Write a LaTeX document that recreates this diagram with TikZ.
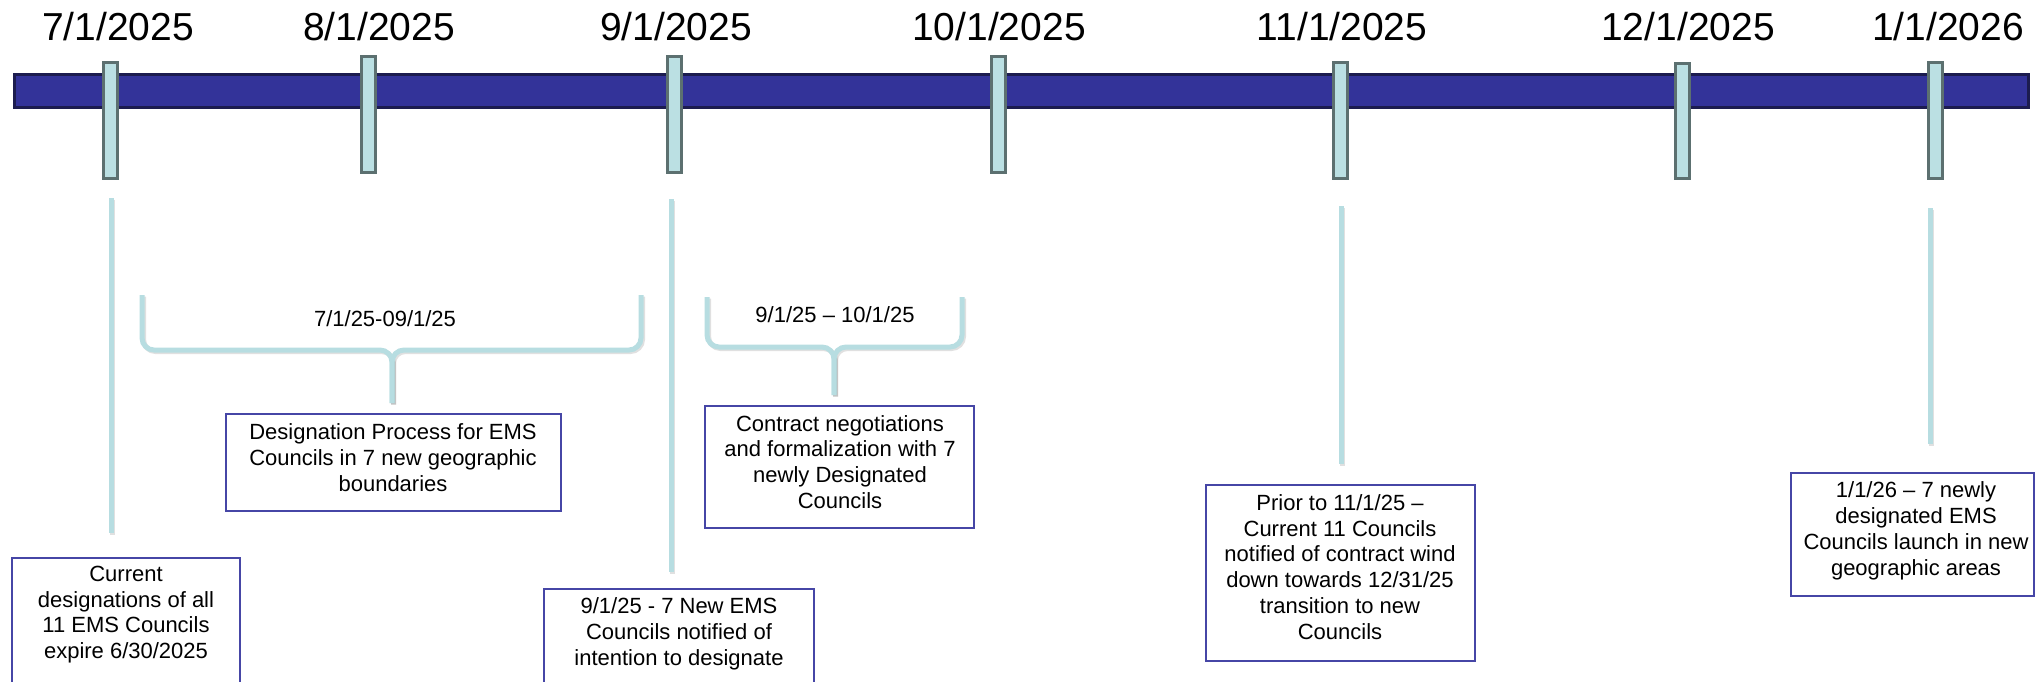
\documentclass[tikz,border=0pt]{standalone}
\usepackage{fontspec}
\setmainfont{Liberation Sans}
\definecolor{barblue}{HTML}{333399}
\definecolor{baredge}{HTML}{1C1C4F}
\definecolor{tickfill}{HTML}{BBE0E3}
\definecolor{tickedge}{HTML}{5C7070}
\definecolor{linecyan}{HTML}{B7DDE1}
\definecolor{boxedge}{HTML}{4646A6}
\begin{document}
\begin{tikzpicture}[x=1pt,y=-1pt,
  timebar/.style={fill=barblue,draw=baredge,line width=3pt,inner sep=0,minimum width=2014pt,minimum height=33pt},
  tickbox/.style={fill=tickfill,draw=tickedge,line width=3pt,inner sep=0,minimum width=14pt},
  datelbl/.style={font=\fontsize{39}{45}\selectfont,anchor=base,inner sep=0},
  evbox/.style={draw=boxedge,line width=2pt,fill=white,inner sep=0},
  evtext/.style={font=\fontsize{22}{25.8}\selectfont,align=center,inner sep=0},
  conn/.style={draw=linecyan,line width=5pt,
    preaction={draw=black,opacity=0.12,line width=5pt,transform canvas={shift={(1.5pt,-1.5pt)}}}},
  bracelbl/.style={font=\fontsize{22}{26}\selectfont,inner sep=0}]
\clip (0,0) rectangle (2037,681);
\fill[white] (0,0) rectangle (2037,681);

% main bar
\node[timebar] (bar) at (1021.5,91) {};

% ticks
\node[tickbox,minimum height=116pt] (k1) at (110,120.5) {};
\node[tickbox,minimum height=116pt] (k2) at (368,114.5) {};
\node[tickbox,minimum height=116pt] (k3) at (674,114.5) {};
\node[tickbox,minimum height=116pt] (k4) at (998,114.5) {};
\node[tickbox,minimum height=116pt] (k5) at (1340,120.5) {};
\node[tickbox,minimum height=115pt] (k6) at (1682,121) {};
\node[tickbox,minimum height=116pt] (k7) at (1935,120.5) {};

% date labels
\node[datelbl] (d1) at (118,40) {7/1/2025};
\node[datelbl] (d2) at (379,40) {8/1/2025};
\node[datelbl] (d3) at (676,40) {9/1/2025};
\node[datelbl] (d4) at (999,40) {10/1/2025};
\node[datelbl] (d5) at (1342,40) {11/1/2025};
\node[datelbl] (d6) at (1688,40) {12/1/2025};
\node[datelbl] (d7) at (1948,40) {1/1/2026};

% event boxes
\node[evbox,minimum width=228pt,minimum height=162pt] (b1) at (126,639) {};
\node[evbox,minimum width=335pt,minimum height=97pt] (b2) at (393.5,462.5) {};
\node[evbox,minimum width=270pt,minimum height=131pt] (b3) at (679,654.5) {};
\node[evbox,minimum width=269pt,minimum height=122pt] (b4) at (839.5,467) {};
\node[evbox,minimum width=269pt,minimum height=176pt] (b5) at (1340.5,573) {};
\node[evbox,minimum width=243pt,minimum height=123pt] (b6) at (1912.5,534.5) {};

\node[evtext] (t1) at (126,614.5) {Current\\designations of all\\11 EMS Councils\\expire 6/30/2025};
\node[evtext] (t2) at (393,457.5) {Designation Process for EMS\\Councils in 7 new geographic\\boundaries};
\node[evtext] (t3) at (679,634) {9/1/25 - 7 New EMS\\Councils notified of\\intention to designate};
\node[evtext] (t4) at (840,462) {Contract negotiations\\and formalization with 7\\newly Designated\\Councils};
\node[evtext] (t5) at (1340,567) {Prior to 11/1/25 --\\Current 11 Councils\\notified of contract wind\\down towards 12/31/25\\transition to new\\Councils};
\node[evtext] (t6) at (1916,531) {1/1/26 -- 7 newly\\designated EMS\\Councils launch in new\\geographic areas};

% connectors from ticks to boxes
\draw[conn,shorten <=18pt,shorten >=24pt] ([xshift=1pt]k1.south) -- ([xshift=1pt]k1.south |- b1.north);
\draw[conn,shorten <=25pt,shorten >=16pt] ([xshift=-3pt]k3.south) -- ([xshift=-3pt]k3.south |- b3.north);
\draw[conn,shorten <=26pt,shorten >=20pt] ([xshift=1pt]k5.south) -- ([xshift=1pt]k5.south |- b5.north);
\draw[conn,shorten <=28pt,shorten >=28pt] ([xshift=-5pt]k7.south) -- ([xshift=-5pt]k7.south |- b6.north);

% braces
\draw[conn,rounded corners=12pt] (142,295) -- (142,350) -- (392,350) -- (392,403);
\draw[conn,rounded corners=12pt] (641,295) -- (641,350) -- (392,350) -- (392,403);
\node[bracelbl] (l1) at (385,319) {7/1/25-09/1/25};

\draw[conn,rounded corners=12pt] (707,297) -- (707,347) -- (834,347) -- (834,395);
\draw[conn,rounded corners=12pt] (962,297) -- (962,347) -- (834,347) -- (834,395);
\node[bracelbl] (l2) at (835,315) {9/1/25 -- 10/1/25};
\end{tikzpicture}
\end{document}
